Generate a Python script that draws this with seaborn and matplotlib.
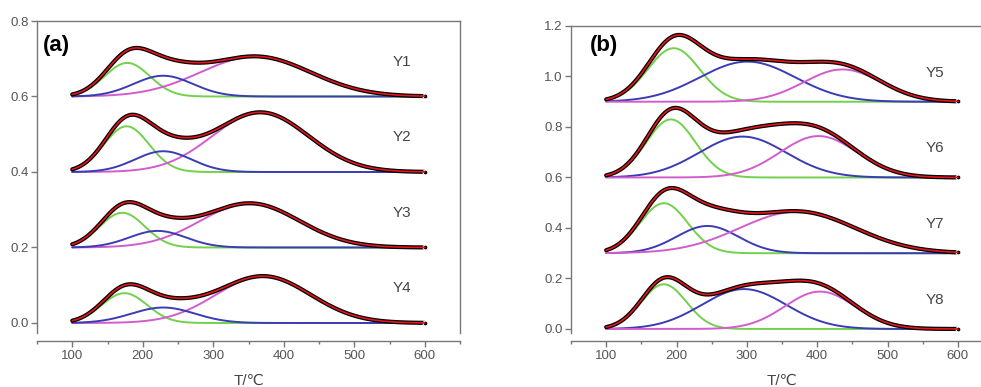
import numpy as np
import pandas as pd
import seaborn as sns
import matplotlib.pyplot as plt
from matplotlib.ticker import MultipleLocator

# peak parameters: (center T, height, width) per sample
samples_a = ['Y1', 'Y2', 'Y3', 'Y4']
baseline_a = [0.6, 0.4, 0.2, 0.0]
green_a = [(178, 0.089, 32), (177, 0.121, 32), (171, 0.092, 32), (174, 0.079, 32)]
blue_a = [(229, 0.055, 42), (229, 0.055, 40), (221, 0.044, 40), (229, 0.041, 45)]
magenta_a = [(360, 0.106, 78), (367, 0.158, 68), (352, 0.117, 70), (371, 0.124, 67)]

samples_b = ['Y5', 'Y6', 'Y7', 'Y8']
baseline_b = [0.9, 0.6, 0.3, 0.0]
green_b = [(196, 0.212, 37), (192, 0.230, 35), (182, 0.198, 34), (182, 0.177, 32)]
blue_b = [(301, 0.159, 68), (294, 0.162, 62), (244, 0.108, 44), (296, 0.158, 60)]
magenta_b = [(436, 0.128, 55), (402, 0.164, 55), (372, 0.165, 82), (404, 0.148, 50)]

T = np.linspace(100, 600, 501)

GREEN = '#72d04c'
BLUE = '#3a3cb4'
MAGENTA = '#d25ccc'
RED = '#e8141c'
GREY = '#777777'
TXT = '#555555'


def peak(p):
    c, h, w = p
    return h * np.exp(-0.5 * ((T - c) / w) ** 2)


def panel(ax, samples, baselines, green, blue, magenta, order, ylim, yticks, label_dy, letter, letter_xy):
    for i, name in enumerate(samples):
        base = baselines[i]
        comps = {'green': peak(green[i]), 'blue': peak(blue[i]), 'magenta': peak(magenta[i])}
        cols = {'green': GREEN, 'blue': BLUE, 'magenta': MAGENTA}
        for k in order:
            sns.lineplot(x=T, y=base + comps[k], color=cols[k], lw=1.4, ax=ax)
        fit = base + comps['green'] + comps['blue'] + comps['magenta']
        sns.lineplot(x=T, y=fit, color='black', lw=3.0, ax=ax,
                     marker='o', markevery=[len(T) - 1], markersize=3.5)
        sns.lineplot(x=T, y=fit, color=RED, lw=1.2, ax=ax)
        ax.text(568, base + label_dy, name, ha='center', va='center', fontsize=11, color='#444444')

    ax.set_xlim(50, 650)
    ax.set_ylim(*ylim)
    ax.set_yticks(yticks)
    ax.yaxis.set_major_formatter(plt.FormatStrFormatter('%.1f'))
    ax.xaxis.set_major_locator(MultipleLocator(100))
    ax.xaxis.set_minor_locator(MultipleLocator(50))
    ax.spines['bottom'].set_position(('outward', 6))
    for s in ax.spines.values():
        s.set_color(GREY)
        s.set_linewidth(1.0)
    ax.tick_params(axis='both', which='major', length=4, width=1, color=GREY, labelcolor=TXT, labelsize=9.5, pad=2)
    ax.tick_params(axis='x', which='minor', length=2.5, width=1, color=GREY)
    ax.set_xlabel('T/℃', fontsize=11, color='#444444', labelpad=9)
    ax.set_ylabel('')
    ax.text(letter_xy[0], letter_xy[1], letter, transform=ax.transAxes,
            fontsize=16, fontweight='bold', va='center', ha='left', color='black')


sns.set_theme(style='ticks')
plt.rcParams['font.family'] = ['Liberation Sans', 'DejaVu Sans']

fig = plt.figure(figsize=(9.81, 3.87), dpi=100)
ax_a = fig.add_axes([37 / 981, 54 / 387, 423 / 981, 312 / 387])
ax_b = fig.add_axes([571 / 981, 54 / 387, 422 / 981, 307 / 387])

panel(ax_a, samples_a, baseline_a, green_a, blue_a, magenta_a,
      ['green', 'magenta', 'blue'], (-0.0265, 0.8), [0.0, 0.2, 0.4, 0.6, 0.8],
      0.092, '(a)', (0.014, 0.92))
panel(ax_b, samples_b, baseline_b, green_b, blue_b, magenta_b,
      ['green', 'blue', 'magenta'], (-0.016, 1.2), [0.0, 0.2, 0.4, 0.6, 0.8, 1.0, 1.2],
      0.115, '(b)', (0.045, 0.938))

fig.savefig('out.png', dpi=100)
